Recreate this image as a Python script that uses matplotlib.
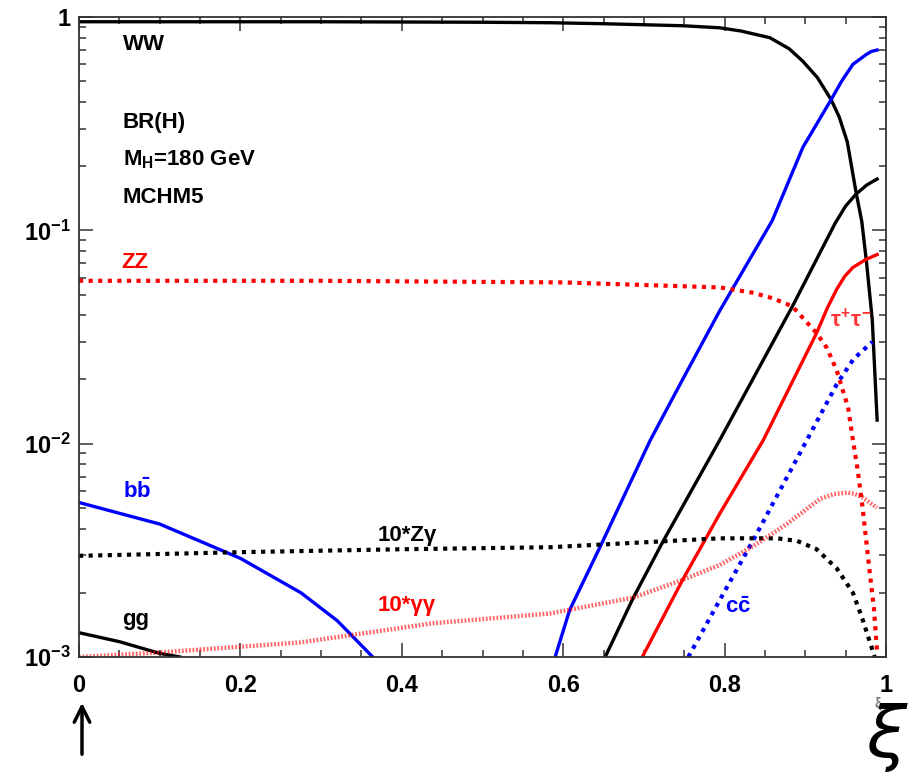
import numpy as np
import matplotlib.pyplot as plt
from matplotlib.ticker import MultipleLocator, LogLocator, NullFormatter

plt.rcParams['font.family'] = ['Liberation Sans', 'DejaVu Sans']
plt.rcParams['font.weight'] = 'bold'
plt.rcParams['mathtext.fontset'] = 'custom'
plt.rcParams['mathtext.rm'] = 'Liberation Sans:bold'
plt.rcParams['mathtext.it'] = 'Liberation Sans:bold'
plt.rcParams['mathtext.bf'] = 'Liberation Sans:bold'

# values (xi, BR)
ww_x = [0, 0.3, 0.5, 0.584, 0.65, 0.748, 0.794, 0.82, 0.856, 0.88, 0.897, 0.915, 0.932, 0.942,
        0.952, 0.963, 0.970, 0.976, 0.983, 0.989]
ww_y = [0.95, 0.95, 0.945, 0.94, 0.93, 0.91, 0.89, 0.86, 0.8, 0.71, 0.62, 0.52, 0.41, 0.34,
        0.26, 0.15, 0.11, 0.07, 0.038, 0.0129]

bb_lo_x = [0, 0.1, 0.2, 0.275, 0.32, 0.364]
bb_lo_y = [0.0053, 0.0042, 0.0029, 0.002, 0.00148, 0.001]
bb_hi_x = [0.59, 0.608, 0.646, 0.708, 0.748, 0.794, 0.859, 0.897, 0.932, 0.945, 0.959, 0.975, 0.982, 0.989]
bb_hi_y = [0.001, 0.00166, 0.0033, 0.0104, 0.02, 0.042, 0.111, 0.245, 0.41, 0.5, 0.6, 0.665, 0.69, 0.70]

gg_lo_x = [0, 0.05, 0.1, 0.125]
gg_lo_y = [0.0013, 0.00118, 0.00104, 0.001]
gg_hi_x = [0.652, 0.687, 0.724, 0.794, 0.884, 0.937, 0.95, 0.963, 0.976, 0.989]
gg_hi_y = [0.001, 0.0019, 0.0035, 0.0104, 0.044, 0.108, 0.13, 0.148, 0.163, 0.174]

tau_x = [0.698, 0.748, 0.794, 0.848, 0.914, 0.927, 0.939, 0.949, 0.959, 0.975, 0.989]
tau_y = [0.001, 0.0023, 0.0047, 0.0104, 0.033, 0.043, 0.053, 0.061, 0.067, 0.073, 0.077]

cc_x = [0.755, 0.794, 0.835, 0.902, 0.939, 0.96, 0.983]
cc_y = [0.001, 0.00185, 0.0035, 0.0104, 0.019, 0.025, 0.030]

zz_x = [0, 0.3, 0.6, 0.794, 0.835, 0.86, 0.884, 0.914, 0.927, 0.939, 0.946, 0.953, 0.959,
        0.965, 0.971, 0.980, 0.985, 0.989]
zz_y = [0.058, 0.058, 0.057, 0.054, 0.051, 0.048, 0.044, 0.033, 0.028, 0.022, 0.018, 0.0148, 0.0104,
        0.0075, 0.005, 0.00246, 0.0017, 0.00105]

za_x = [0, 0.2, 0.4, 0.584, 0.794, 0.865, 0.89, 0.914, 0.939, 0.959, 0.971, 0.986]
za_y = [0.00298, 0.0031, 0.0032, 0.00327, 0.0036, 0.0036, 0.0035, 0.0032, 0.0026, 0.002, 0.0015, 0.001]

aa_x = [0, 0.1, 0.274, 0.439, 0.584, 0.687, 0.748, 0.794, 0.835, 0.877, 0.918, 0.935, 0.952, 0.962, 0.971, 0.989]
aa_y = [0.001, 0.00105, 0.00117, 0.00144, 0.0016, 0.0019, 0.0023, 0.0027, 0.0033, 0.0042, 0.0055, 0.0058,
        0.0059, 0.0058, 0.0056, 0.005]

y_ticks = [1e-3, 1e-2, 1e-1, 1]
y_labels = [r'$10^{-3}$', r'$10^{-2}$', r'$10^{-1}$', '1']
x_ticks = [0, 0.2, 0.4, 0.6, 0.8, 1]
x_labels = ['0', '0.2', '0.4', '0.6', '0.8', '1']

fig = plt.figure(figsize=(9.21, 7.77), dpi=100)
ax = fig.add_axes([79 / 921, 1 - 657 / 777, 807 / 921, 640 / 777])

dot = (0, (1, 1.3))
ax.plot(ww_x, ww_y, color='black', lw=2.4)
ax.plot(bb_lo_x, bb_lo_y, color='blue', lw=2.4)
ax.plot(bb_hi_x, bb_hi_y, color='blue', lw=2.4)
ax.plot(gg_lo_x, gg_lo_y, color='black', lw=2.4)
ax.plot(gg_hi_x, gg_hi_y, color='black', lw=2.4)
ax.plot(tau_x, tau_y, color='red', lw=2.4)
ax.plot(cc_x, cc_y, color='blue', lw=3, linestyle=dot)
ax.plot(zz_x, zz_y, color='red', lw=3, linestyle=dot)
ax.plot(za_x, za_y, color='black', lw=3, linestyle=dot)
ax.plot(aa_x, aa_y, color='red', lw=3.2, linestyle=(0, (0.4, 0.4)), alpha=0.6)

ax.set_yscale('log')
ax.set_xlim(0, 1)
ax.set_ylim(1e-3, 1)
ax.set_xticks(x_ticks)
ax.set_xticklabels(x_labels)
ax.set_yticks(y_ticks)
ax.set_yticklabels(y_labels)
ax.xaxis.set_minor_locator(MultipleLocator(0.05))
ax.yaxis.set_minor_locator(LogLocator(base=10, subs=np.arange(2, 10)))
ax.yaxis.set_minor_formatter(NullFormatter())
ax.tick_params(which='both', direction='in', top=True, right=True, width=1.1, colors='#333333',
               labelcolor='black', labelsize=17)
ax.tick_params(which='major', length=10)
ax.tick_params(which='minor', length=5)
ax.tick_params(axis='x', pad=12)
ax.tick_params(axis='y', pad=6)
for s in ax.spines.values():
    s.set_linewidth(1.3)
    s.set_color('#333333')

fs = 16
ax.text(0.054, 0.74, 'WW', fontsize=fs, va='center')
ax.text(0.054, 0.32, 'BR(H)', fontsize=fs, va='center')
ax.text(0.054, 0.214, r'M$_{\rm H}$=180 GeV', fontsize=fs, va='center')
ax.text(0.054, 0.142, 'MCHM5', fontsize=fs, va='center')
ax.text(0.052, 0.071, 'ZZ', fontsize=fs, va='center', color='red')
ax.text(0.054, 0.006, r'$\rm b\bar{b}$', fontsize=fs, va='center', color='blue')
ax.text(0.054, 0.0015, 'gg', fontsize=fs, va='center')
ax.text(0.37, 0.0037, '10*Zγ', fontsize=fs, va='center')
ax.text(0.37, 0.00175, '10*γγ', fontsize=fs, va='center', color='red')
ax.text(0.93, 0.038, r'$\tau^{+}\tau^{-}$', fontsize=fs, va='center', color='#ff3333')
ax.text(0.80, 0.0017, r'$\rm c\bar{c}$', fontsize=fs, va='center', color='blue')

# hand drawn marks below the axis
ax.annotate('', xy=(82, 77), xycoords='figure pixels', xytext=(82, 20),
            textcoords='figure pixels',
            arrowprops=dict(arrowstyle='->', lw=2.5, color='black', mutation_scale=28))
fig.text(878 / 921, 1 - 703 / 777, 'ξ', fontsize=10, color='#777777', ha='center', va='center')
fig.text(886 / 921, 1 - 738 / 777, 'ξ', fontsize=52, fontweight='normal', fontstyle='italic',
         ha='center', va='center', family=['DejaVu Sans'])

fig.savefig('out.png', dpi=100)
